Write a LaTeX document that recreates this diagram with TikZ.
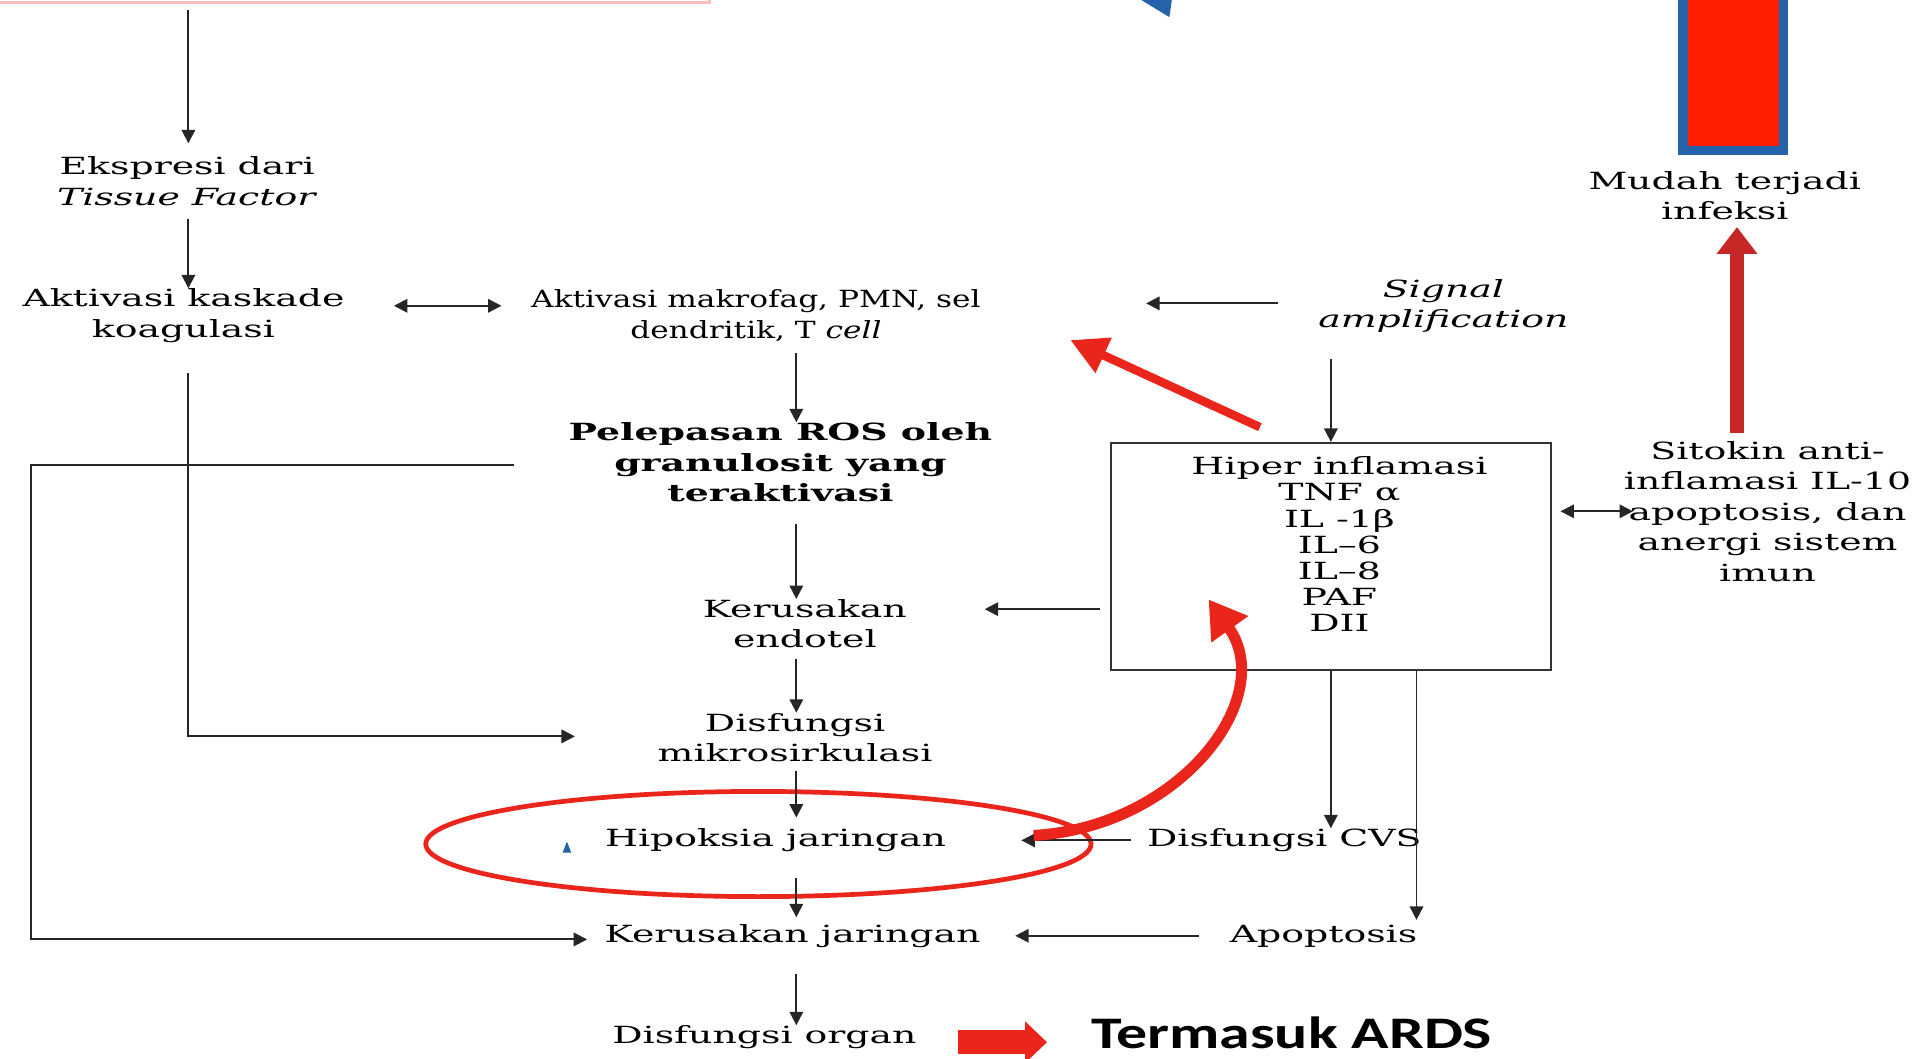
\documentclass[tikz,border=0pt]{standalone}
\usepackage{fontspec}
\setmainfont{DejaVu Serif}[FakeStretch=1.6]
\newfontfamily\sempit{DejaVu Serif}[FakeStretch=1.32]
\newfontfamily\ardsfont{Carlito}[FakeStretch=1.37]
\usetikzlibrary{arrows.meta, positioning, calc, shapes.geometric}

\definecolor{merahpanah}{RGB}{234,38,28}
\definecolor{merahtua}{RGB}{198,40,40}
\definecolor{merahbatang}{RGB}{255,30,0}
\definecolor{biru}{RGB}{36,98,170}
\definecolor{merahmuda}{RGB}{250,188,188}

\begin{document}
\begin{tikzpicture}[
        x=0.02cm, y=-0.02cm,
        teks/.style={
            align=center,
            inner sep=0pt,
            font=\fontsize{11}{14.2}\selectfont
        },
        kotak/.style={
            rectangle,
            draw=black!80,
            line width=0.9pt,
            minimum width=7.2cm,
            minimum height=3.72cm
        },
        panah/.style={-{Triangle[length=2.2mm, width=2.2mm]}, line width=0.9pt, draw=black!85},
        panahdua/.style={{Triangle[length=2.2mm, width=2.2mm]}-{Triangle[length=2.2mm, width=2.2mm]}, line width=0.9pt, draw=black!85},
        merahlurus/.style={-{Triangle[length=6mm, width=6mm]}, line width=0.14cm, draw=merahpanah},
        merahnaik/.style={-{Triangle[length=4.4mm, width=6.4mm]}, line width=0.24cm, draw=merahtua},
        merahlengkung/.style={-{Triangle[length=6mm, width=7mm]}, line width=0.18cm, draw=merahpanah},
        blok/.style={-{Triangle[length=3.6mm, width=6.6mm]}, line width=0.4cm, draw=merahpanah},
        elips/.style={ellipse, draw=merahpanah, line width=2.2pt, minimum width=10.88cm, minimum height=1.72cm}
    ]
        \useasboundingbox (0,0) rectangle (1568,865);

        % potongan gambar di tepi atas
        \draw[merahmuda, line width=0.06cm] (-10,-40) rectangle (580,2);
        \fill[biru] (933,0) -- (958,0) -- (956,14) -- cycle;
        \draw[biru, fill=merahbatang, line width=0.16cm] (1376,-10) rectangle (1458,123);

        \coordinate (awal) at (154,8);
        \coordinate (kolom) at (651,0);

        \node[teks] (eks) at (153,148) {Ekspresi dari\\\textit{Tissue Factor}};
        \node[teks] (kask) at (150,258) {Aktivasi kaskade\\koagulasi};
        \node[teks, font=\sempit\fontsize{11}{14.2}\selectfont] (makro) at (618,258) {Aktivasi makrofag, PMN, sel\\dendritik, T \textit{cell}};
        \node[teks] (signal) at (1180,250) {\textit{Signal}\\\textit{amplification}};
        \node[teks, font=\fontsize{11}{14.2}\selectfont\bfseries] (ros) at (638,378) {
            Pelepasan ROS oleh\\granulosit yang\\teraktivasi
        };
        \node[teks] (endo) at (658,510) {Kerusakan\\endotel};
        \node[teks] (mikro) at (650,603) {Disfungsi\\mikrosirkulasi};
        \node[elips] (oval) at (620,690) {};
        \node[teks] (hipo) at (634,687) {Hipoksia jaringan};
        \node[teks] (cvs) at (1050,687) {Disfungsi CVS};
        \node[teks] (apop) at (1082,765) {Apoptosis};
        \node[teks] (kjar) at (648,765) {Kerusakan jaringan};
        \node[teks] (organ) at (625,848) {Disfungsi organ};
        \node[teks, font=\ardsfont\bfseries\fontsize{21}{25}\selectfont] (ards) at (1056,844) {Termasuk ARDS};

        \node[kotak] (hiper) at (1088,455) {};
        \node[teks, font=\fontsize{11}{12.2}\selectfont] (sitokin) at (1095,445) {
            Hiper inflamasi\\TNF α\\IL -1β\\IL–6\\IL–8\\PAF\\DII
        };
        \node[teks] (antiinf) at (1445,418) {
            Sitokin anti-\\inflamasi IL-10\\apoptosis, dan\\anergi sistem\\imun
        };
        \node[teks] (mudah) at (1410,160) {Mudah terjadi\\infeksi};

        \fill[biru] (460,697) -- (467,697) -- (463.5,688) -- cycle;

        \coordinate (cabang) at ($(hiper.south)+(70,0)$);
        \coordinate (pangkal) at ($(antiinf.north)+(-25,-6)$);

        % alur utama
        \draw[panah, shorten >=6pt] (awal) -- (eks.north -| awal);
        \draw[panah, shorten <=6pt] (eks.south -| awal) -- (kask.north -| awal);
        \draw[panahdua] ($(kask.center)+(172,-8)$) -- ($(makro.center)+(-208,-8)$);
        \draw[panah] ($(signal.center)+(-135,-2)$) -- ($(makro.center)+(319,-10)$);
        \draw[panah, shorten <=12pt] (signal.south -| hiper.north) -- (hiper.north);
        \draw[panah, shorten <=5pt] (makro.south -| kolom) -- (ros.north -| kolom);
        \draw[panah, shorten <=10pt] (ros.south -| kolom) -- (endo.north -| kolom);
        \draw[panah, shorten <=5pt] (endo.south -| kolom) -- (mikro.north -| kolom);
        \draw[panah, shorten <=4pt, shorten >=5pt] (mikro.south -| kolom) -- (hipo.north -| kolom);
        \draw[panah, shorten <=12pt, shorten >=3pt] (hipo.south -| kolom) -- (kjar.north -| kolom);
        \draw[panah, shorten <=12pt] (kjar.south -| kolom) -- (organ.north -| kolom);

        % cabang dari kotak
        \draw[panah] ($(hiper.west |- endo.center)+(-8,-12)$) -- ($(endo.center)+(147,-12)$);
        \draw[panah] (hiper.south) -- (hiper.south |- cvs.north);
        \draw[panah, shorten >=2pt] (cabang) -- (cabang |- apop.north);
        \draw[panah] ($(cvs.center)+(-125,0)$) -- ($(hipo.center)+(201,0)$);
        \draw[panah] ($(apop.center)+(-102,0)$) -- ($(kjar.center)+(182,0)$);
        \draw[panahdua] ($(hiper.east)+(7,-37)$) -- ($(antiinf.center)+(-110,0)$);

        % garis siku
        \draw[panah] ($(kask.south)+(4,25)$) |- ($(mikro.center)+(-180,-1)$);
        \draw[panah] ($(ros.center)+(-218,2)$) -- ++(-395,0) |- ($(kjar.center)+(-168,3)$);

        % panah merah
        \draw[merahlurus] ($(hiper.north)+(-58,-12)$) -- ($(makro.center)+(257,20)$);
        \draw[merahnaik, shorten >=3pt] (pangkal) -- (pangkal |- mudah.south);
        \draw[merahlengkung] ($(hipo.center)+(211,-4)$) .. controls (965,676) and (1045,570) .. ($(hiper.center)+(-100,35)$);
        \draw[blok] ($(organ.center)+(158,4)$) -- ($(ards.center)+(-200,8)$);
    \end{tikzpicture}
\end{document}
